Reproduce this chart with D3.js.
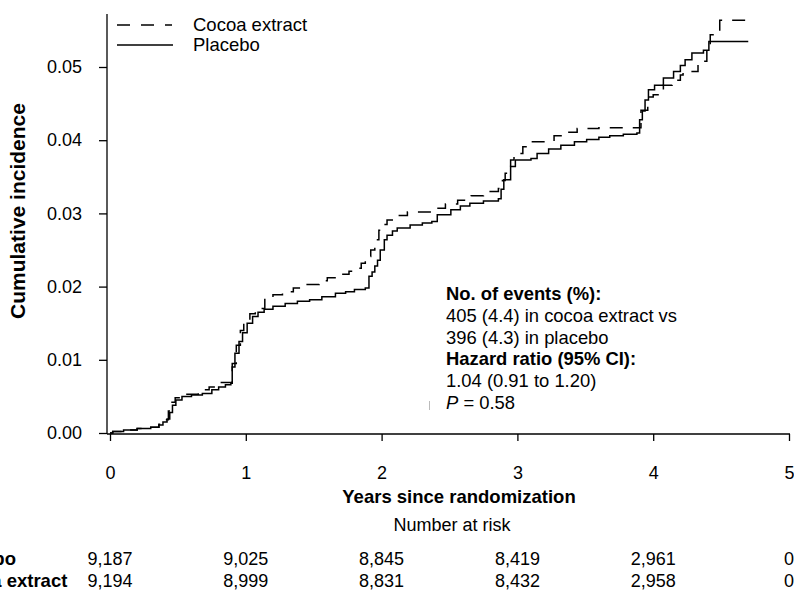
<!DOCTYPE html>
<html>
<head>
<meta charset="utf-8">
<script src="https://cdn.jsdelivr.net/npm/d3@7"></script>
<style>
  body { margin: 0; background: #fff; }
  svg { display: block; font-family: Arial, "Liberation Sans", sans-serif; }
</style>
</head>
<body>
<svg id="chart" width="794" height="592"></svg>
<script>
// cumulative incidence, [years, value]
var placebo = [
  [0, 0], [0.02, 0.0002], [0.1, 0.0004], [0.2, 0.0006], [0.3, 0.0008], [0.36, 0.0011],
  [0.39, 0.0015], [0.42, 0.0019], [0.44, 0.0028], [0.46, 0.0038], [0.485, 0.0045],
  [0.53, 0.005], [0.6, 0.0052], [0.68, 0.0054], [0.75, 0.0059], [0.8, 0.0063],
  [0.85, 0.0066], [0.89, 0.0068], [0.9, 0.009], [0.92, 0.0109], [0.95, 0.0125],
  [0.976, 0.0137], [1.01, 0.015], [1.05, 0.0159], [1.09, 0.0165], [1.135, 0.0169],
  [1.2, 0.0173], [1.29, 0.0177], [1.38, 0.018], [1.47, 0.0182], [1.56, 0.0186],
  [1.66, 0.0191], [1.735, 0.0193], [1.8, 0.0196], [1.88, 0.0198], [1.907, 0.0214],
  [1.93, 0.022], [1.95, 0.0228], [1.97, 0.0236], [1.99, 0.025], [2.02, 0.0264],
  [2.04, 0.027], [2.08, 0.0276], [2.115, 0.028], [2.21, 0.0284], [2.3, 0.0287],
  [2.37, 0.0289], [2.41, 0.0298], [2.51, 0.0305], [2.58, 0.031], [2.65, 0.0314],
  [2.75, 0.0317], [2.86, 0.032], [2.88, 0.0333], [2.9, 0.0346], [2.95, 0.0364],
  [2.985, 0.0373], [3.1, 0.0375], [3.145, 0.0382], [3.23, 0.0388], [3.32, 0.0393],
  [3.42, 0.0398], [3.51, 0.0401], [3.6, 0.0404], [3.68, 0.0406], [3.78, 0.0408],
  [3.88, 0.041], [3.9, 0.0428], [3.92, 0.044], [3.94, 0.0455], [3.965, 0.0469],
  [4.01, 0.0475], [4.075, 0.0485], [4.15, 0.0494], [4.2, 0.0502], [4.235, 0.051],
  [4.285, 0.0519], [4.37, 0.0523], [4.41, 0.0535], [4.7, 0.0535]
];
var cocoa = [
  [0, 0], [0.02, 0.0002], [0.1, 0.0004], [0.2, 0.0006], [0.3, 0.0008], [0.36, 0.0012],
  [0.4, 0.0018], [0.43, 0.003], [0.45, 0.0042], [0.48, 0.0048], [0.55, 0.0053],
  [0.65, 0.0059], [0.73, 0.0063], [0.82, 0.0069], [0.88, 0.0069], [0.9, 0.0095],
  [0.93, 0.012], [0.96, 0.014], [0.985, 0.0154], [1.03, 0.0163], [1.07, 0.017],
  [1.14, 0.0184], [1.2, 0.0189], [1.27, 0.0193], [1.35, 0.0198], [1.42, 0.0203],
  [1.54, 0.0208], [1.6, 0.0212], [1.69, 0.0217], [1.76, 0.0221], [1.82, 0.0225],
  [1.85, 0.0232], [1.88, 0.0236], [1.907, 0.0241], [1.92, 0.025], [1.95, 0.0264],
  [1.98, 0.0277], [2.01, 0.0285], [2.04, 0.0291], [2.1, 0.0297], [2.19, 0.0302],
  [2.385, 0.0307], [2.47, 0.0313], [2.56, 0.0318], [2.66, 0.0324], [2.75, 0.033],
  [2.86, 0.0334], [2.89, 0.0345], [2.91, 0.0355], [2.95, 0.0373], [2.975, 0.0382],
  [3.04, 0.0391], [3.1, 0.0398], [3.27, 0.0406], [3.36, 0.0411], [3.44, 0.0416],
  [3.6, 0.0417], [3.88, 0.0417], [3.91, 0.0441], [3.96, 0.0459], [4.0, 0.0462],
  [4.075, 0.0475], [4.14, 0.0482], [4.2, 0.0489], [4.22, 0.0494], [4.33, 0.0508],
  [4.395, 0.0523], [4.42, 0.0544], [4.48, 0.0546], [4.49, 0.0564], [4.7, 0.0564]
];

var xTicks = [0, 1, 2, 3, 4, 5];
var yTicks = [0, 0.01, 0.02, 0.03, 0.04, 0.05];

var riskGroups = ["Placebo", "Cocoa extract"];
var riskPlacebo = ["9,187", "9,025", "8,845", "8,419", "2,961", "0"];
var riskCocoa = ["9,194", "8,999", "8,831", "8,432", "2,958", "0"];

var noteLines = [
  {text: "No. of events (%):", bold: true},
  {text: "405 (4.4) in cocoa extract vs", bold: false},
  {text: "396 (4.3) in placebo", bold: false},
  {text: "Hazard ratio (95% CI):", bold: true},
  {text: "1.04 (0.91 to 1.20)", bold: false},
  {text: "P = 0.58", bold: false}
];

var svg = d3.select("#chart");

var x = d3.scaleLinear().domain([0, 5]).range([110, 789]);
var y = d3.scaleLinear().domain([0, 0.05]).range([433, 67]);

// axes
var yAxis = d3.axisLeft(y).tickValues(yTicks).tickFormat(d3.format(".2f")).tickSize(8).tickPadding(17);
var xAxis = d3.axisBottom(x).tickValues(xTicks).tickFormat(d3.format("d")).tickSize(7).tickPadding(25);

var gy = svg.append("g").attr("transform", "translate(107,0)").call(yAxis);
gy.select(".domain").remove();
gy.append("line").attr("x1", 0).attr("x2", 0).attr("y1", 14).attr("y2", 434)
  .attr("stroke", "#000").attr("stroke-width", 1.3);

var gx = svg.append("g").attr("transform", "translate(0,434)").call(xAxis);
gx.select(".domain").remove();
gx.append("line").attr("x1", 107).attr("x2", 790).attr("y1", 0).attr("y2", 0)
  .attr("stroke", "#000").attr("stroke-width", 1.3);

svg.selectAll(".tick line").attr("stroke", "#000").attr("stroke-width", 1.3);
svg.selectAll(".tick text").attr("font-size", 18).attr("fill", "#000")
  .attr("font-family", "Arial, 'Liberation Sans', sans-serif");

// titles
svg.append("text")
  .attr("transform", "translate(25,211) rotate(-90)")
  .attr("text-anchor", "middle").attr("font-size", 21).attr("font-weight", "bold")
  .text("Cumulative incidence");

svg.append("text")
  .attr("x", 459).attr("y", 503)
  .attr("text-anchor", "middle").attr("font-size", 18.5).attr("font-weight", "bold")
  .text("Years since randomization");

// curves
var line = d3.line()
  .x(function(d) { return x(d[0]); })
  .y(function(d) { return y(d[1]); })
  .curve(d3.curveStepAfter);

svg.append("path").datum(placebo)
  .attr("d", line).attr("fill", "none").attr("stroke", "#000").attr("stroke-width", 1.5);

svg.append("path").datum(cocoa)
  .attr("d", line).attr("fill", "none").attr("stroke", "#000").attr("stroke-width", 1.5)
  .attr("stroke-dasharray", "13,10");

// legend
var legend = svg.append("g");
legend.append("line").attr("x1", 117).attr("x2", 172).attr("y1", 25).attr("y2", 25)
  .attr("stroke", "#000").attr("stroke-width", 1.5).attr("stroke-dasharray", "13,11");
legend.append("line").attr("x1", 117).attr("x2", 173).attr("y1", 45).attr("y2", 45)
  .attr("stroke", "#000").attr("stroke-width", 1.5);
legend.append("text").attr("x", 193).attr("y", 31).attr("font-size", 18.5).text("Cocoa extract");
legend.append("text").attr("x", 193).attr("y", 51).attr("font-size", 18.5).text("Placebo");

// annotation
var note = svg.append("g");
note.selectAll("text").data(noteLines).enter().append("text")
  .attr("x", 446)
  .attr("y", function(d, i) { return 300 + i * 21.8; })
  .attr("font-size", 18.4)
  .attr("font-weight", function(d) { return d.bold ? "bold" : "normal"; })
  .each(function(d) {
    var t = d3.select(this);
    if (d.text.indexOf("P =") === 0) {
      t.append("tspan").attr("font-style", "italic").text("P");
      t.append("tspan").text(d.text.slice(1));
    } else {
      t.text(d.text);
    }
  });
// faint stray mark seen left of the P value
svg.append("rect").attr("x", 429).attr("y", 401).attr("width", 1).attr("height", 9).attr("fill", "#bbb");

// number at risk
svg.append("text").attr("x", 452).attr("y", 531).attr("text-anchor", "middle")
  .attr("font-size", 18).text("Number at risk");

var rows = [riskPlacebo, riskCocoa];
var rowY = [565, 587];
rows.forEach(function(vals, r) {
  svg.append("text").attr("x", -55).attr("y", rowY[r])
    .attr("font-size", 18.5).attr("font-weight", "bold").text(riskGroups[r]);
  svg.selectAll(".risk" + r).data(vals).enter().append("text")
    .attr("class", "risk" + r)
    .attr("x", function(d, i) { return x(xTicks[i]); })
    .attr("y", rowY[r])
    .attr("text-anchor", "middle")
    .attr("font-size", 18)
    .text(function(d) { return d; });
});
</script>
</body>
</html>
